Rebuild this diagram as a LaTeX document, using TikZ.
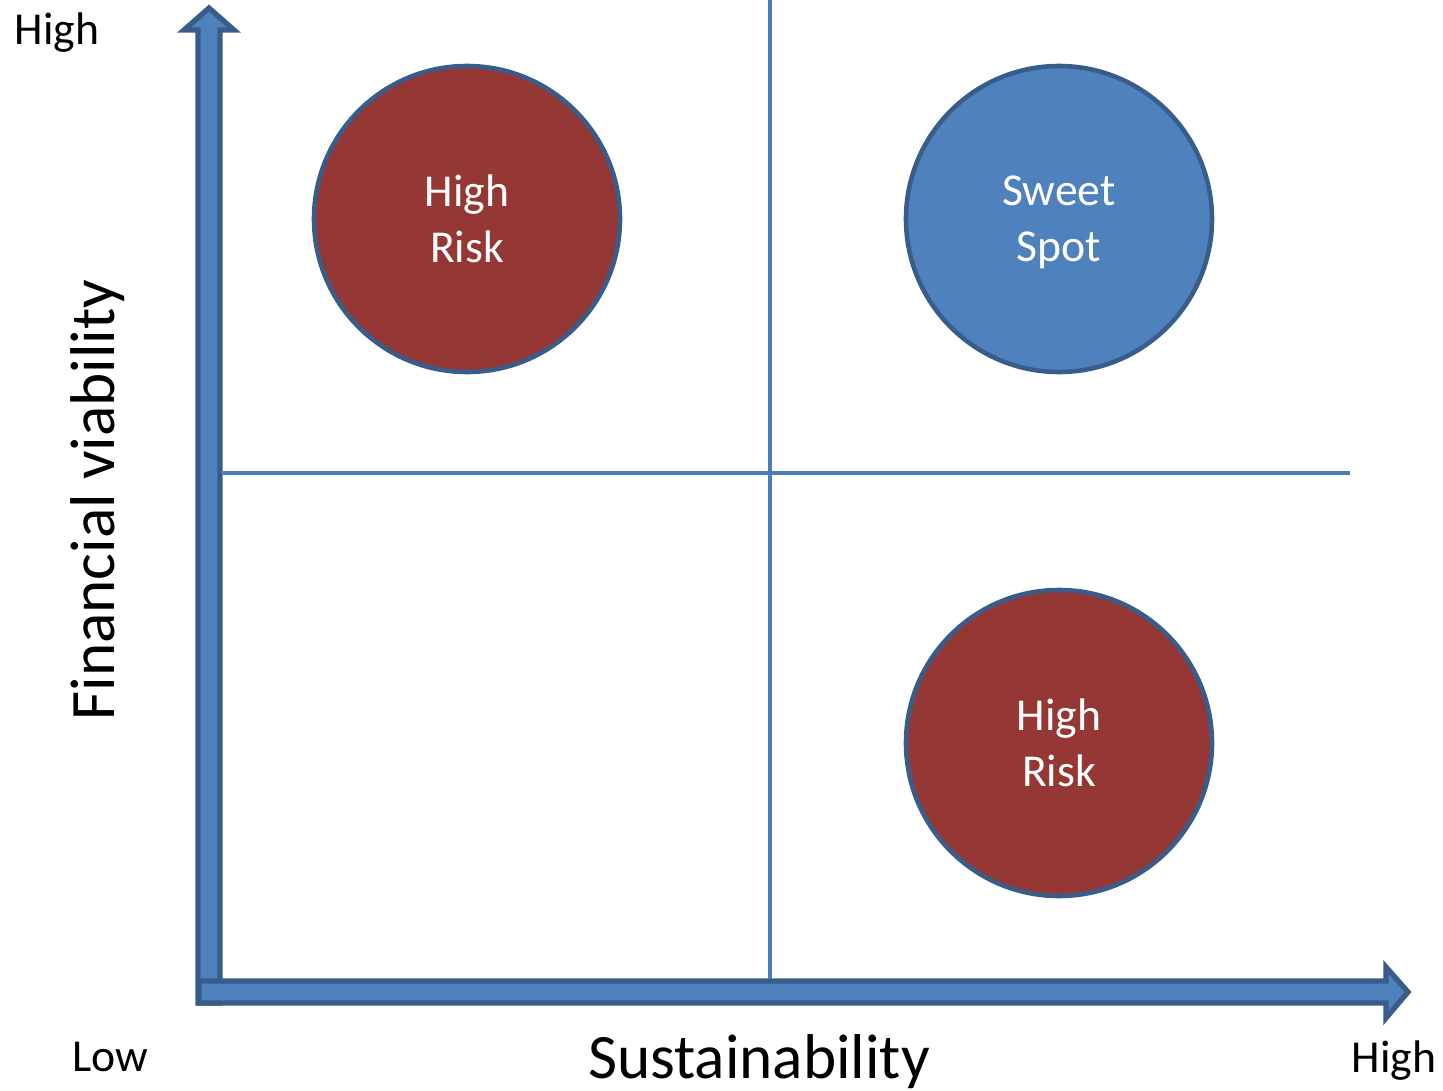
\documentclass[tikz,border=0pt]{standalone}
\usepackage{fontspec}
\setmainfont{Carlito}
\usetikzlibrary{positioning}

\definecolor{axisblue}{HTML}{4F81BD}
\definecolor{edgeblue}{HTML}{385D8A}
\definecolor{gridblue}{HTML}{4A7EBB}
\definecolor{riskred}{HTML}{953735}

\begin{document}
\begin{tikzpicture}[x=0.2mm, y=-0.2mm,
    axis/.style={fill=axisblue, draw=edgeblue, line width=3pt, line join=miter},
    grid/.style={draw=gridblue, line width=2.8pt},
    zone/.style={circle, minimum size=61.2mm, inner sep=0pt, draw=edgeblue,
        line width=2.6pt, text=white, align=center, text depth=0pt,
        font=\fontsize{26}{32}\selectfont},
    lbl/.style={anchor=base, font=\fontsize{26}{32}\selectfont},
    title/.style={font=\fontsize{36}{42}\selectfont}]
    \useasboundingbox (0,0) rectangle (1443,1091);

    % axes
    \filldraw[axis] (198,1003) -- (198,30) -- (184,30) -- (209,8) -- (234,30)
        -- (220,30) -- (220,1003) -- cycle;
    \filldraw[axis] (199,981) -- (1386,981) -- (1386,967) -- (1408,992)
        -- (1386,1018) -- (1386,1003) -- (199,1003) -- cycle;

    % quadrant lines
    \coordinate (vtop) at (770,0);
    \coordinate (vbot) at (770,979);
    \coordinate (hleft) at (223,473);
    \coordinate (hright) at (1350,473);
    \draw[grid] (vtop) -- (vbot);
    \draw[grid] (hleft) -- (hright);

    % zones
    \node[zone, fill=riskred] (riskA) at (467,219) {High\\Risk};
    \node[zone, fill=axisblue] (sweet) at (1059,219) {Sweet\\Spot};
    \node[zone, fill=riskred] (riskB) at (1059,743) {High\\Risk};

    % labels
    \node[lbl] (yhigh) at (57,44) {High};
    \node[lbl] (xlow) at (110,1071) {Low};
    \node[lbl] (xhigh) at (1394,1072) {High};
    \node[title, anchor=base] (xname) at (759,1078) {Sustainability};
    \node[title, rotate=90] (yname) at (98,500) {Financial viability};
\end{tikzpicture}
\end{document}
